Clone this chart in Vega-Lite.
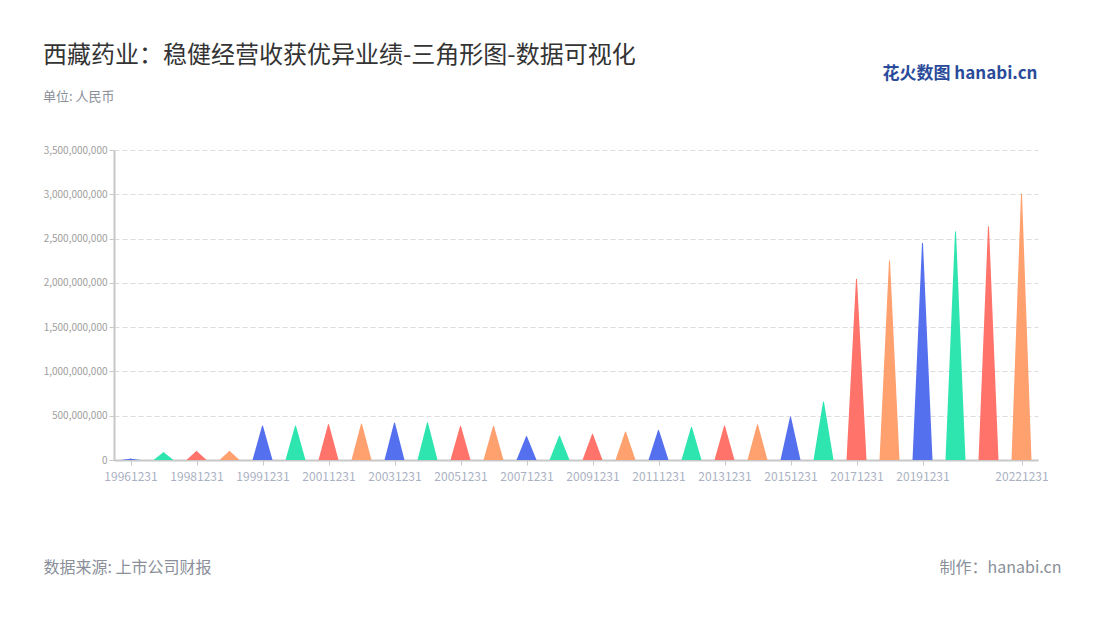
{
  "$schema": "https://vega.github.io/schema/vega-lite/v6.json",
  "width": 924,
  "height": 310,
  "autosize": {"type": "none"},
  "padding": {"left": 114, "top": 150, "right": 62, "bottom": 160},
  "background": "white",
  "config": {"font": "Noto Sans CJK SC", "view": {"stroke": null}},
  "title": {
    "text": "西藏药业：稳健经营收获优异业绩-三角形图-数据可视化",
    "subtitle": "单位: 人民币",
    "frame": "group",
    "anchor": "start",
    "dx": -71,
    "offset": -40,
    "fontSize": 24,
    "fontWeight": "normal",
    "color": "#333333",
    "subtitleFontSize": 13,
    "subtitleColor": "#8a8f99",
    "subtitlePadding": 23
  },
  "data": {
    "values": [
      {"date": "19961231", "value": 15000000},
      {"date": "19971231", "value": 85000000},
      {"date": "19981231", "value": 100000000},
      {"date": "19990630", "value": 100000000},
      {"date": "19991231", "value": 384000000},
      {"date": "20001231", "value": 384000000},
      {"date": "20011231", "value": 400000000},
      {"date": "20021231", "value": 407000000},
      {"date": "20031231", "value": 418000000},
      {"date": "20041231", "value": 420000000},
      {"date": "20051231", "value": 381000000},
      {"date": "20061231", "value": 381000000},
      {"date": "20071231", "value": 264000000},
      {"date": "20081231", "value": 271000000},
      {"date": "20091231", "value": 290000000},
      {"date": "20101231", "value": 316000000},
      {"date": "20111231", "value": 335000000},
      {"date": "20121231", "value": 369000000},
      {"date": "20131231", "value": 384000000},
      {"date": "20141231", "value": 399000000},
      {"date": "20151231", "value": 486000000},
      {"date": "20161231", "value": 655000000},
      {"date": "20171231", "value": 2042000000},
      {"date": "20181231", "value": 2249000000},
      {"date": "20191231", "value": 2446000000},
      {"date": "20201231", "value": 2577000000},
      {"date": "20211231", "value": 2633000000},
      {"date": "20221231", "value": 3003000000}
    ]
  },
  "transform": [
    {"stack": "value", "groupby": ["date"], "as": ["v0", "v1"]},
    {"fold": ["v0", "v1"], "as": ["end", "y"]}
  ],
  "layer": [
    {
      "mark": {"type": "trail", "clip": true},
      "encoding": {
        "x": {
          "field": "date",
          "type": "ordinal",
          "sort": null,
          "scale": {"type": "point", "padding": 0.5},
          "axis": {
            "values": ["19961231", "19981231", "19991231", "20011231", "20031231", "20051231", "20071231", "20091231", "20111231", "20131231", "20151231", "20171231", "20191231", "20221231"],
            "labelAngle": 0,
            "labelFontSize": 12,
            "labelColor": "#aab1c2",
            "labelPadding": 6,
            "labelOverlap": false,
            "tickSize": 5,
            "tickColor": "#c8c8c8",
            "domainColor": "#c8c8c8",
            "domainWidth": 2,
            "grid": false,
            "title": "数据来源: 上市公司财报",
            "titleX": -71,
            "titleY": 107,
            "titleAlign": "left",
            "titleBaseline": "middle",
            "titleFontSize": 16,
            "titleFontWeight": "normal",
            "titleColor": "#8a8f99"
          }
        },
        "y": {
          "field": "y",
          "type": "quantitative",
          "scale": {"domain": [0, 3500000000], "nice": false},
          "axis": {
            "values": [0, 500000000, 1000000000, 1500000000, 2000000000, 2500000000, 3000000000, 3500000000],
            "format": ",d",
            "labelFontSize": 10,
            "labelColor": "#9e9e9e",
            "labelPadding": 2,
            "tickSize": 5,
            "tickColor": "#c8c8c8",
            "domainColor": "#c8c8c8",
            "domainWidth": 2,
            "grid": true,
            "gridColor": "#dddddd",
            "gridDash": [5, 3],
            "title": null
          }
        },
        "size": {
          "field": "end",
          "type": "ordinal",
          "scale": {"type": "point", "domain": ["v0", "v1"], "range": [20, 0], "padding": 0},
          "legend": null
        },
        "color": {
          "field": "date",
          "type": "nominal",
          "scale": {"range": ["#5570ee", "#2ee5b0", "#ff736b", "#ffa06f"]},
          "legend": null
        },
        "detail": {"field": "date"}
      }
    },
    {
      "mark": {"type": "point", "opacity": 0},
      "encoding": {
        "x": {
          "field": "date",
          "type": "ordinal",
          "sort": null,
          "axis": {
            "orient": "top",
            "labels": false,
            "ticks": false,
            "domain": false,
            "grid": false,
            "title": "花火数图 hanabi.cn",
            "titleX": 923,
            "titleY": -77,
            "titleAlign": "right",
            "titleBaseline": "middle",
            "titleFontSize": 17,
            "titleFontWeight": "bold",
            "titleColor": "#2a4a9a"
          }
        },
        "y": {
          "field": "y",
          "type": "quantitative",
          "axis": {
            "orient": "right",
            "labels": false,
            "ticks": false,
            "domain": false,
            "grid": false,
            "title": "制作：hanabi.cn",
            "titleAngle": 0,
            "titleX": 23,
            "titleY": 417,
            "titleAlign": "right",
            "titleBaseline": "middle",
            "titleFontSize": 16,
            "titleFontWeight": "normal",
            "titleColor": "#8a8f99"
          }
        }
      }
    }
  ],
  "resolve": {"axis": {"x": "independent", "y": "independent"}}
}
